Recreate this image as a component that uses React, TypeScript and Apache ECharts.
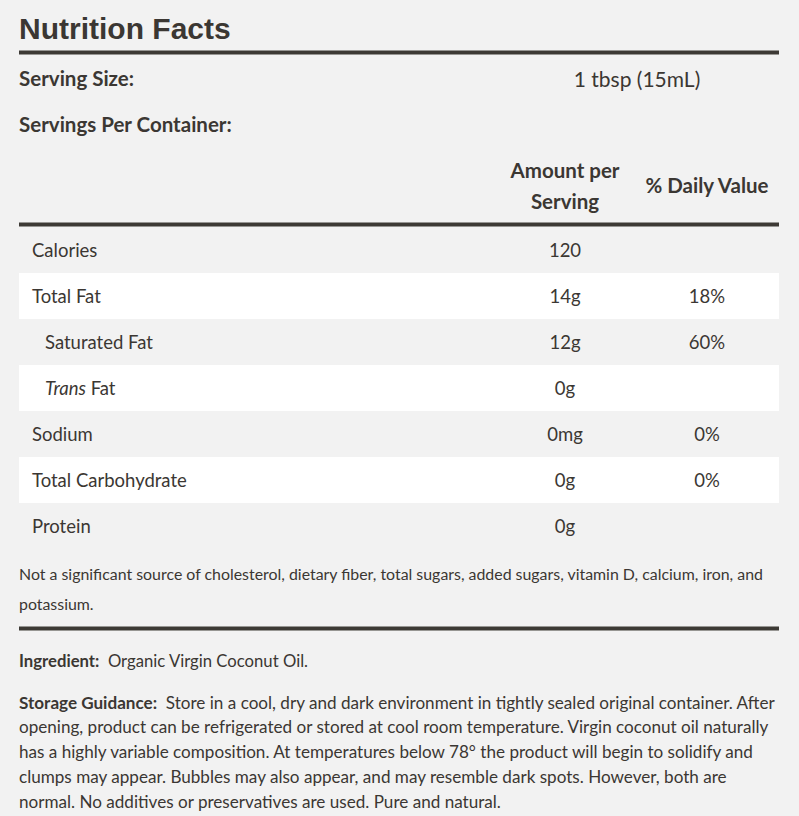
import React, { useEffect, useRef } from "react";
import * as echarts from "echarts";

const title = "Nutrition Facts";
const servingSize = "1 tbsp (15mL)";
const nutrients = ["Calories", "Total Fat", "Saturated Fat", "Trans Fat", "Sodium", "Total Carbohydrate", "Protein"];
const indents = [0, 0, 1, 1, 0, 0, 0];
const amounts = ["120", "14g", "12g", "0g", "0mg", "0g", "0g"];
const dailyValues = ["", "18%", "60%", "", "0%", "0%", ""];
const footnoteLines = [
  "Not a significant source of cholesterol, dietary fiber, total sugars, added sugars, vitamin D, calcium, iron, and",
  "potassium.",
];
const ingredient = "Organic Virgin Coconut Oil.";
const storageLines = [
  "Store in a cool, dry and dark environment in tightly sealed original container. After",
  "opening, product can be refrigerated or stored at cool room temperature. Virgin coconut oil naturally",
  "has a highly variable composition. At temperatures below 78° the product will begin to solidify and",
  "clumps may appear. Bubbles may also appear, and may resemble dark spots. However, both are",
  "normal. No additives or preservatives are used. Pure and natural.",
];

const FONT = "Lato, 'Open Sans', sans-serif";
const INK = "#3b3733";

export default function App() {
  const ref = useRef<HTMLDivElement>(null);
  useEffect(() => {
    document.body.style.margin = "0";
    const chart = echarts.init(ref.current!, null, { renderer: "svg" });
    const L = 19, R = 779;
    const els: any[] = [];
    els.push({ type: "rect", shape: { x: 0, y: 0, width: 799, height: 816 }, style: { fill: "#f2f2f2" }, silent: true });
    const txt = (x: number, y: number, text: string, size: number, weight: any = "normal", align: any = "left", extra: any = {}) => ({
      type: "text", x, y,
      style: { text, fontSize: size, fontWeight: weight, fontFamily: FONT, fill: INK, textAlign: align, textVerticalAlign: "middle", ...extra },
    });
    const line = (y: number, w: number) => ({ type: "rect", shape: { x: L, y: y - w / 2, width: R - L, height: w }, style: { fill: "#3d3a35" } });

    els.push(txt(19, 28, title, 30, "bold", "left", { fontFamily: "'Liberation Sans', Arial, sans-serif" }));
    els.push(line(52.5, 4));
    els.push(txt(19, 78, "Serving Size:", 20.5, "bold"));
    els.push(txt(637, 78, servingSize, 21, "normal", "center"));
    els.push(txt(19, 124, "Servings Per Container:", 20.5, "bold"));
    els.push(txt(565, 170, "Amount per", 20.5, "bold", "center"));
    els.push(txt(565, 201, "Serving", 20.5, "bold", "center"));
    els.push(txt(707, 185, "% Daily Value", 20.5, "bold", "center"));
    els.push(line(224.5, 4));

    const y0 = 227, h = 46;
    nutrients.forEach((n, i) => {
      const top = y0 + i * h;
      if (i % 2 === 1) els.push({ type: "rect", shape: { x: L, y: top, width: R - L, height: h }, style: { fill: "#ffffff" } });
      const cy = top + h / 2;
      const x = indents[i] ? 45 : 32;
      if (n.startsWith("Trans ")) {
        els.push({
          type: "text", x, y: cy,
          style: {
            text: "{i|Trans} " + n.slice(6), fontSize: 18.5, fontFamily: FONT, fill: INK, textVerticalAlign: "middle",
            rich: { i: { fontStyle: "italic", fontSize: 18.5, fontFamily: FONT, fill: INK } },
          },
        });
      } else {
        els.push(txt(x, cy, n, 18.5));
      }
      els.push(txt(565, cy, amounts[i], 18.5, "normal", "center"));
      if (dailyValues[i]) els.push(txt(707, cy, dailyValues[i], 18.5, "normal", "center"));
    });

    footnoteLines.forEach((t, i) => els.push(txt(19, 573 + i * 30.5, t, 15.9)));
    els.push(line(628.5, 4));

    const rich = (s: number) => ({
      b: { fontWeight: "bold", fontSize: s, fontFamily: FONT, fill: INK },
      n: { fontSize: s, fontFamily: FONT, fill: INK },
    });
    els.push({
      type: "text", x: 19, y: 661,
      style: { text: "{b|Ingredient:}  {n|" + ingredient + "}", fontSize: 16.7, fontFamily: FONT, fill: INK, textVerticalAlign: "middle", rich: rich(16.7) },
    });
    storageLines.forEach((t, i) => {
      const content = i === 0 ? "{b|Storage Guidance:}  {n|" + t + "}" : "{n|" + t + "}";
      els.push({
        type: "text", x: 19, y: 702 + i * 24.8,
        style: { text: content, fontSize: 17.1, fontFamily: FONT, fill: INK, textVerticalAlign: "middle", rich: rich(17.1) },
      });
    });

    chart.setOption({ animation: false, graphic: { elements: els } });
    return () => chart.dispose();
  }, []);
  return <div ref={ref} style={{ width: 799, height: 816 }} />;
}
